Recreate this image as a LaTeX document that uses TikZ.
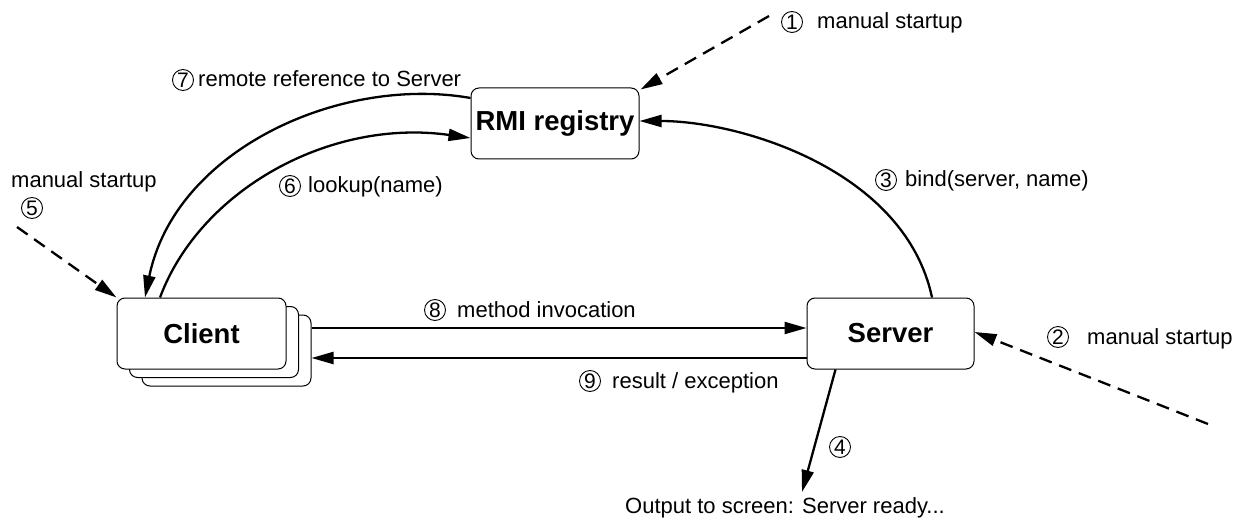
\documentclass[tikz,border=0pt]{standalone}
\usepackage{fontspec}
\setmainfont{Liberation Sans}
\usetikzlibrary{arrows.meta,calc}
\begin{document}
\begin{tikzpicture}[x=1pt,y=-1pt,
  box/.style={draw, line width=1pt, rounded corners=8pt, fill=white,
    minimum width=169pt, minimum height=71pt, inner sep=0pt,
    font=\fontsize{27.5}{30}\selectfont\bfseries},
  lbl/.style={anchor=base west, inner sep=0pt, font=\fontsize{22}{26}\selectfont},
  num/.style={circle, draw, line width=0.9pt, minimum size=21pt, inner sep=0pt,
    font=\fontsize{21}{24}\selectfont},
  arr/.style={line width=2.3pt, -{Triangle[length=22pt,width=12pt]}},
  dasharr/.style={arr, dash pattern=on 13pt off 8pt},
]
\useasboundingbox (0,0) rectangle (1238,521);

% client stack (three copies), registry and server
\node[box] (client3) at (226.5,350.5) {};
\node[box] (client2) at (214,342) {};
\node[box] (client) at (201.5,333.5) {Client};
\node[box, minimum width=168pt] (rmi) at (555,123.5) {RMI registry};
\node[box, minimum width=167pt] (server) at (890.5,333.5) {Server};

% method call and its result
\coordinate (m8) at ([yshift=-13.5pt]client3.north east);
\draw[arr] (m8) -- (m8 -| server.west);
\coordinate (r9) at ([yshift=-24.5pt]server.west);
\draw[arr] (r9) -- (r9 -| client3.east);

% bind, lookup and the returned reference
\draw[arr] ([xshift=41.5pt]server.north) .. controls (905,170) and (740,121) .. ([yshift=2.5pt]rmi.east);
\draw[arr] ([yshift=25.5pt]rmi.west) .. controls (340,75) and (175,150) .. ([xshift=-56.5pt]client.north);
\draw[arr] ([xshift=-41.5pt]client.north) .. controls (200,190) and (330,118) .. ([yshift=-14.5pt]rmi.west);

% manual startups
\coordinate (s1) at (769,16);
\draw[dasharr] (s1) -- ([xshift=1pt,yshift=-2pt]rmi.north east);
\coordinate (s2) at (1208,424);
\draw[dasharr] (s2) -- ([yshift=1.5pt]server.east);
\coordinate (s5) at (17,227);
\draw[dasharr] (s5) -- (client.north west);

% console output
\coordinate (o4) at (802,492);
\draw[arr] ([xshift=-55pt]server.south) -- (o4);
\node[lbl] (out) at (625,513) {Output to screen: Server ready...};

% step labels
\node[num] (n1) at (792,22) {1};
\node[lbl] (t1) at (817,29) {manual startup};
\node[num] (n2) at (1058,337) {2};
\node[lbl] (t2) at (1087,344) {manual startup};
\node[num] (n3) at (886,180) {3};
\node[lbl] (t3) at (905,187) {bind(server, name)};
\node[num] (n4) at (840,447) {4};
\node[lbl] (t5) at (11,188) {manual startup};
\node[num] (n5) at (32,208) {5};
\node[num] (n6) at (290,186) {6};
\node[lbl] (t6) at (308,193) {lookup(name)};
\node[num] (n7) at (183,80) {7};
\node[lbl] (t7) at (198,87) {remote reference to Server};
\node[num] (n8) at (435,310) {8};
\node[lbl] (t8) at (457,317) {method invocation};
\node[num] (n9) at (590,381) {9};
\node[lbl] (t9) at (612,388) {result / exception};
\end{tikzpicture}
\end{document}
